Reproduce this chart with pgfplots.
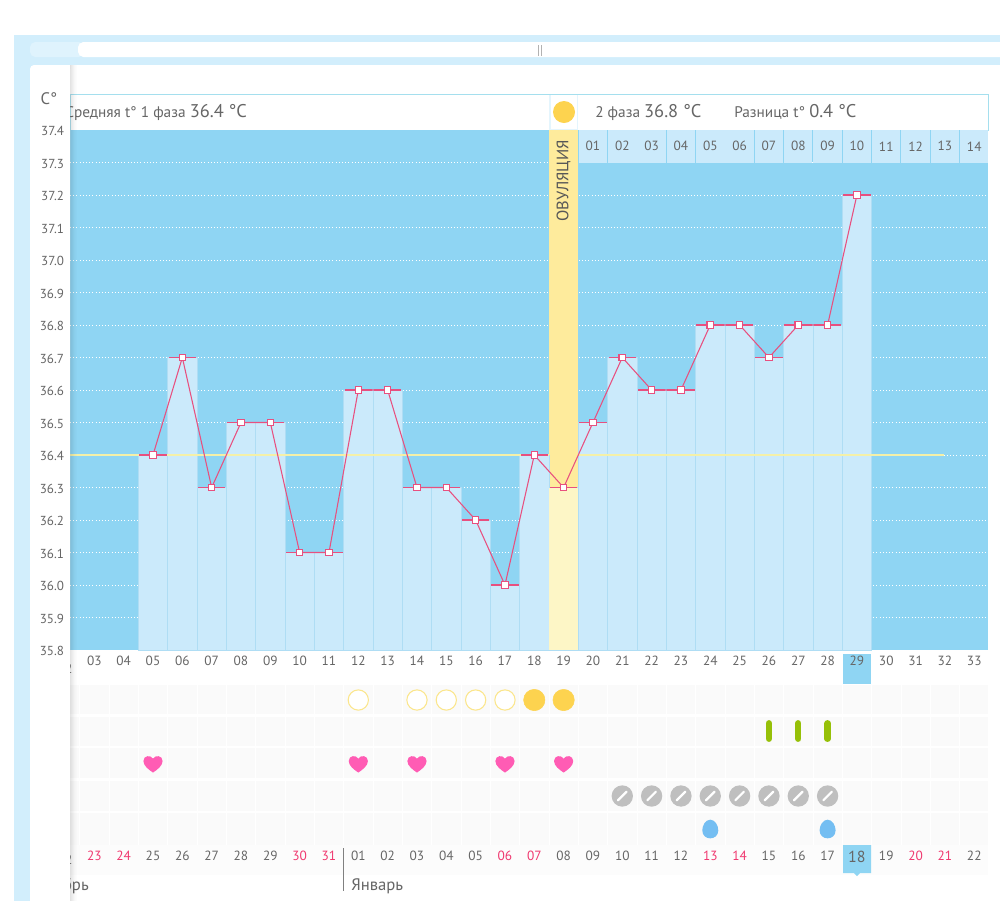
\documentclass[border=0pt]{standalone}
\usepackage{fontspec}
\setmainfont{PT Sans}
\usepackage{pgfplots}
\usepackage{pgfplotstable}
\pgfplotsset{compat=1.18}
\definecolor{skyb}{HTML}{8FD5F3}
\definecolor{barb}{HTML}{CBEAFB}
\definecolor{sepb}{HTML}{AFDDF4}
\definecolor{frameb}{HTML}{D2EEFC}
\definecolor{lineb}{HTML}{A5DFEE}
\definecolor{ovu}{HTML}{FEEB9C}
\definecolor{ovup}{HTML}{FDF6C6}
\definecolor{sun}{HTML}{FDD34F}
\definecolor{ring}{HTML}{FBE68C}
\definecolor{pinkl}{HTML}{E8507F}
\definecolor{heart}{HTML}{FF5CB4}
\definecolor{stick}{HTML}{96C008}
\definecolor{pill}{HTML}{BFBFBF}
\definecolor{drop}{HTML}{74BEF2}
\definecolor{txt}{HTML}{666666}
\definecolor{redd}{HTML}{F0386F}
\definecolor{meanl}{HTML}{F4F0A8}
\definecolor{cell}{HTML}{FAFAFA}
\newcommand{\rd}[1]{\textcolor{redd}{#1}}
\pgfdeclareplotmark{heartm}{%
  \pgfpathmoveto{\pgfqpoint{0pt}{-6.4pt}}
  \pgfpathcurveto{\pgfqpoint{-3pt}{-4.4pt}}{\pgfqpoint{-7.2pt}{-1.4pt}}{\pgfqpoint{-7.2pt}{2.2pt}}
  \pgfpathcurveto{\pgfqpoint{-7.2pt}{6.6pt}}{\pgfqpoint{-1.6pt}{7pt}}{\pgfqpoint{0pt}{4pt}}
  \pgfpathcurveto{\pgfqpoint{1.6pt}{7pt}}{\pgfqpoint{7.2pt}{6.6pt}}{\pgfqpoint{7.2pt}{2.2pt}}
  \pgfpathcurveto{\pgfqpoint{7.2pt}{-1.4pt}}{\pgfqpoint{3pt}{-4.4pt}}{\pgfqpoint{0pt}{-6.4pt}}
  \pgfpathclose\pgfusepathqfill}
\pgfdeclareplotmark{stickm}{%
  \pgfsetroundcap\pgfsetlinewidth{4.8pt}
  \pgfpathmoveto{\pgfqpoint{0pt}{-5.8pt}}\pgfpathlineto{\pgfqpoint{0pt}{5.8pt}}\pgfusepathqstroke}
\pgfdeclareplotmark{pillm}{%
  \pgfpathcircle{\pgfpointorigin}{8pt}\pgfusepathqfill
  \pgfsetstrokecolor{white}\pgfsetroundcap\pgfsetlinewidth{1.7pt}
  \pgfpathmoveto{\pgfqpoint{-3.2pt}{-3.2pt}}\pgfpathlineto{\pgfqpoint{3.2pt}{3.2pt}}\pgfusepathqstroke}
\pgfdeclareplotmark{dropm}{%
  \pgfpathmoveto{\pgfqpoint{0pt}{7pt}}
  \pgfpathcurveto{\pgfqpoint{3.6pt}{7pt}}{\pgfqpoint{6pt}{2.6pt}}{\pgfqpoint{6pt}{-1pt}}
  \pgfpathcurveto{\pgfqpoint{6pt}{-5pt}}{\pgfqpoint{3pt}{-7pt}}{\pgfqpoint{0pt}{-7pt}}
  \pgfpathcurveto{\pgfqpoint{-3pt}{-7pt}}{\pgfqpoint{-6pt}{-5pt}}{\pgfqpoint{-6pt}{-1pt}}
  \pgfpathcurveto{\pgfqpoint{-6pt}{2.6pt}}{\pgfqpoint{-3.6pt}{7pt}}{\pgfqpoint{0pt}{7pt}}
  \pgfpathclose\pgfusepathqfill}
\pgfplotstableread{
day temp
5 36.4
6 36.7
7 36.3
8 36.5
9 36.5
10 36.1
11 36.1
12 36.6
13 36.6
14 36.3
15 36.3
16 36.2
17 36.0
18 36.4
19 36.3
20 36.5
21 36.7
22 36.6
23 36.6
24 36.8
25 36.8
26 36.7
27 36.8
28 36.8
29 37.2
}\temps
\begin{document}
\begin{tikzpicture}[x=0.75pt,y=-0.75pt]
% page and frame
\fill[white] (0,0) rectangle (1000,901);
\clip (0,0) rectangle (1000,901);
\fill[frameb] (14,35) rectangle (1000,901);
\fill[frameb!70!white,rounded corners=4pt] (30,42) rectangle (84,57);
\fill[white,rounded corners=4pt] (78,42) rectangle (1012,57);
\draw[black!30,line width=.4pt] (538,45)--(538,56) (541,45)--(541,56);
\fill[white,rounded corners=4pt] (30,65) rectangle (1012,910);
% header
\draw[lineb,line width=.75pt,fill=white] (70,94) rectangle (988,130);
\fill[frameb!60!white] (549,94.5) rectangle (578,129.5);
\fill[white] (551,95) rectangle (577,129);
\fill[sun] (564,112) circle [radius=11];
\node[anchor=base west,inner sep=0,text=txt,font=\fontsize{11.5}{10}\selectfont] at (65,117) {Средняя t° 1 фаза \fontsize{13.8}{10}\selectfont 36.4 °C};
\node[anchor=base west,inner sep=0,text=txt,font=\fontsize{11.5}{10}\selectfont] at (595,117) {2 фаза \fontsize{13.8}{10}\selectfont 36.8 °C};
\node[anchor=base west,inner sep=0,text=txt,font=\fontsize{11.5}{10}\selectfont] at (734,117) {Разница t° \fontsize{13.8}{10}\selectfont 0.4 °C};
% highlights behind the date labels
\fill[skyb] (843,654) rectangle (871,684);
\fill[cell!60!white] (70,845) rectangle (988,875);
\fill[skyb] (843,845) -- (871,845) -- (871,873) -- (860,873) -- (857,876) -- (854,873) -- (843,873) -- cycle;
% temperature axis
\begin{axis}[
  at={(52.5pt,-487.5pt)},anchor=south west,scale only axis,
  width=688.5pt,height=390pt,
  xmin=2.17,xmax=33.469,ymin=35.8,ymax=37.4,
  clip=false,
  axis line style={draw=none},
  axis background/.style={fill=skyb},
  xtick={3,...,33},
  xticklabels={03,04,05,06,07,08,09,10,11,12,13,14,15,16,17,18,19,20,21,22,23,24,25,26,27,28,29,30,31,32,33},
  ytick={35.9,36.0,36.1,36.2,36.3,36.4,36.5,36.6,36.7,36.8,36.9,37.0,37.1,37.2,37.3},
  yticklabels={},
  ymajorgrids,
  grid style={white,dotted,line width=.75pt},
  tick style={draw=none},
  xticklabel style={text=txt,font=\fontsize{10}{10}\selectfont,yshift=-1pt},
]
\addplot[ybar,bar width=22pt,bar shift=0pt,draw=none,fill=ovu,forget plot] coordinates {(19,37.4)};
\addplot[ybar,bar width=22pt,bar shift=0pt,draw=sepb,line width=.6pt,fill=barb,forget plot] table[x=day,y=temp] {\temps};
\addplot[ybar,bar width=22pt,bar shift=0pt,draw=none,fill=ovup,forget plot] coordinates {(19,36.3)};
\addplot[meanl,line width=1.1pt,forget plot] coordinates {(2.17,36.4) (18.5,36.4)};
\addplot[meanl,line width=1.1pt,forget plot] coordinates {(19.5,36.4) (31.96,36.4)};
\addplot[draw=none,mark=none,forget plot,error bars/.cd,x dir=both,x fixed=0.47,
  error bar style={pinkl,line width=1.2pt},error mark=none] table[x=day,y=temp] {\temps};
\addplot[pinkl,line width=.8pt,mark=square*,mark size=2.4pt,
  mark options={draw=pinkl,fill=white,line width=.9pt,solid},forget plot] table[x=day,y=temp] {\temps};
% top row of the cycle days
\foreach \d/\l in {20/01,21/02,22/03,23/04,24/05,25/06,26/07,27/08,28/09,29/10,30/11,31/12,32/13,33/14}{
  \edef\tmp{\noexpand\fill[barb] (axis cs:\d-0.485,37.4) rectangle (axis cs:\d+0.485,37.3);
  \noexpand\node[text=txt,font=\noexpand\fontsize{10}{10}\noexpand\selectfont] at (axis cs:\d,37.35) {\l};}
  \tmp
}
\node[rotate=90,text=txt!85!black,font=\fontsize{12.4}{10}\selectfont,anchor=east,inner sep=0] at (axis cs:19,37.37) {ОВУЛЯЦИЯ};
\node[text=txt,font=\fontsize{10}{10}\selectfont,yshift=-1pt] at (axis cs:2,35.745) {02};
\end{axis}
% symbols axis
\begin{axis}[
  at={(52.5pt,-513.75pt)},anchor=north west,scale only axis,
  width=688.5pt,height=120pt,
  xmin=2.17,xmax=33.469,ymin=685,ymax=845,y dir=reverse,
  clip=false,
  axis line style={draw=none},
  axis background/.style={fill=cell},
  xtick={3,...,33},
  xticklabels={\rd{23},\rd{24},25,26,27,28,29,\rd{30},\rd{31},01,02,03,04,05,\rd{06},\rd{07},08,09,10,11,12,\rd{13},\rd{14},15,16,17,{\fontsize{12}{10}\selectfont 18},19,\rd{20},\rd{21},22},
  minor xtick={2.5,3.5,...,33.5},
  xminorgrids,
  minor grid style={white,line width=.6pt},
  ytick={715.5,747,779.5,812},
  yticklabels={},
  ymajorgrids,
  major grid style={white,line width=2pt},
  tick style={draw=none},
  xticklabel style={text=txt,font=\fontsize{10}{10}\selectfont,yshift=-1pt},
]
\addplot[only marks,mark=*,mark size=7.6pt,mark options={draw=ring,fill=white,line width=.8pt},forget plot] coordinates {(12,700) (14,700) (15,700) (16,700) (17,700)};
\addplot[only marks,mark=*,mark size=8pt,mark options={draw=sun,fill=sun},forget plot] coordinates {(18,700) (19,700)};
\addplot[only marks,mark=stickm,mark options={draw=stick,fill=stick},forget plot] coordinates {(26,731) (27,731) (28,731)};
\addplot[only marks,mark=heartm,mark options={draw=none,fill=heart},forget plot] coordinates {(5,764) (12,764) (14,764) (17,764) (19,764)};
\addplot[only marks,mark=pillm,mark options={draw=pill,fill=pill},forget plot] coordinates {(21,796) (22,796) (23,796) (24,796) (25,796) (26,796) (27,796) (28,796)};
\addplot[only marks,mark=dropm,mark options={draw=none,fill=drop},forget plot] coordinates {(24,829) (28,829)};
\node[text=txt,font=\fontsize{10}{10}\selectfont,anchor=base] at (axis cs:2,864) {22};
\end{axis}
% month labels
\draw[black!50,line width=.75pt] (343,848) -- (343,891);
\node[anchor=base west,inner sep=0,text=txt,font=\fontsize{12.5}{10}\selectfont] at (351,890) {Январь};
\begin{scope}
\clip (70,875) rectangle (120,900);
\node[anchor=base east,inner sep=0,text=txt,font=\fontsize{12.5}{10}\selectfont] at (89,890) {Декабрь};
\end{scope}
% left panel
\foreach \i/\o in {0/.12,1/.09,2/.07,3/.05,4/.03,5/.02,6/.01}{
  \fill[black,opacity=\o] (70+\i,65) rectangle (71+\i,901);}
\fill[white,rounded corners=3pt] (30,65) rectangle (70,920);
\node[anchor=base,inner sep=0,text=txt,font=\fontsize{12.5}{10}\selectfont] at (49,104) {C°};
% y labels on the panel
\begin{axis}[
  at={(52.5pt,-487.5pt)},anchor=south west,scale only axis,
  width=688.5pt,height=390pt,
  xmin=2.17,xmax=33.469,ymin=35.8,ymax=37.4,
  axis line style={draw=none},
  xtick=\empty,
  ytick={35.8,35.9,36.0,36.1,36.2,36.3,36.4,36.5,36.6,36.7,36.8,36.9,37.0,37.1,37.2,37.3,37.4},
  tick style={draw=none},
  yticklabel style={text=txt,font=\fontsize{9.8}{10}\selectfont,xshift=-1pt,yshift=-1pt,
    /pgf/number format/fixed,/pgf/number format/fixed zerofill,/pgf/number format/precision=1,/pgf/number format/assume math mode=true},
]
\addplot[draw=none,forget plot] coordinates {(5,36.4)};
\end{axis}
\end{tikzpicture}
\end{document}
